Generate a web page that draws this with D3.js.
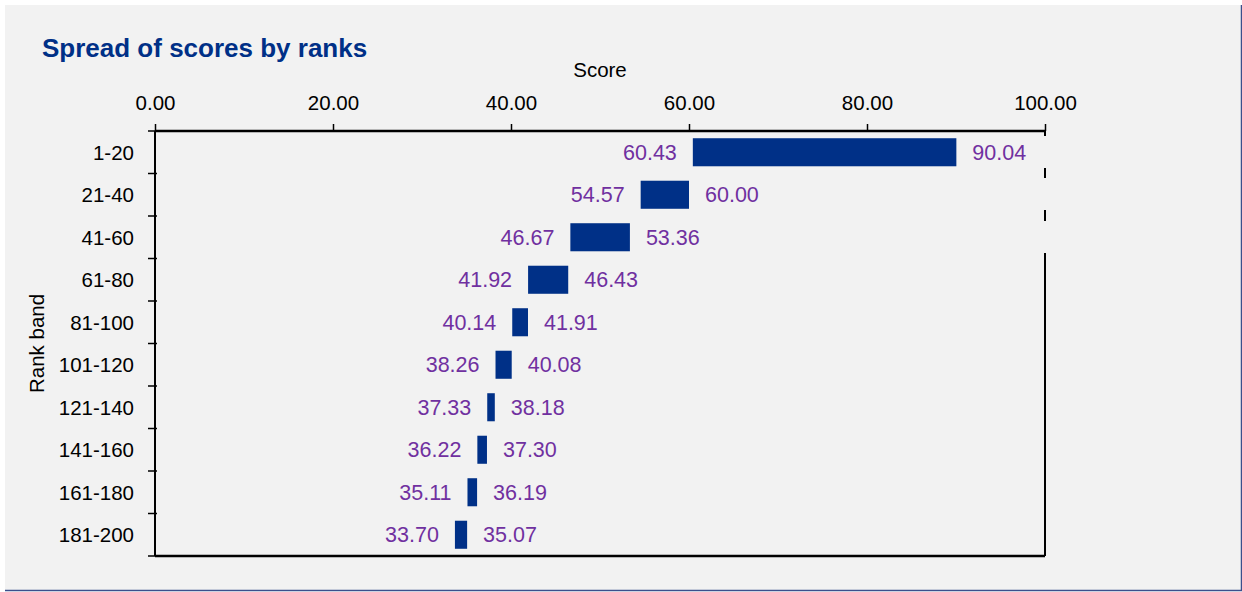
<!DOCTYPE html>
<html>
<head>
<meta charset="utf-8">
<script src="https://cdn.jsdelivr.net/npm/d3@7"></script>
<style>
  html, body { margin: 0; padding: 0; background: #fff; }
  svg { display: block; }
  text { font-family: "Liberation Sans", Arial, sans-serif; }
</style>
</head>
<body>
<div id="chart"></div>
<script>
var bands = ['1-20', '21-40', '41-60', '61-80', '81-100', '101-120', '121-140', '141-160', '161-180', '181-200'];
var lowScores = [60.43, 54.57, 46.67, 41.92, 40.14, 38.26, 37.33, 36.22, 35.11, 33.70];
var highScores = [90.04, 60.00, 53.36, 46.43, 41.91, 40.08, 38.18, 37.30, 36.19, 35.07];
var xTicks = [0, 20, 40, 60, 80, 100];

var data = bands.map(function(b, i) {
  return {band: b, low: lowScores[i], high: highScores[i]};
});

var totalWidth = 1242, totalHeight = 592;
var margin = {top: 131, left: 155};
var width = 890, height = 425;
var barColor = '#003087';
var labelColor = '#7030a0';
var fontSize = 20.5;

var svg = d3.select('#chart').append('svg')
    .attr('width', totalWidth)
    .attr('height', totalHeight);

// Panel background
svg.append('rect')
    .attr('x', 5).attr('y', 5)
    .attr('width', 1236).attr('height', 585)
    .attr('fill', '#f2f2f2');
svg.append('line')
    .attr('x1', 1241.5).attr('x2', 1241.5).attr('y1', 5).attr('y2', 591)
    .attr('stroke', '#3b4f8c').attr('stroke-width', 1.5);
svg.append('line')
    .attr('x1', 5).attr('x2', 1242).attr('y1', 590.5).attr('y2', 590.5)
    .attr('stroke', '#3b4f8c').attr('stroke-width', 1.5);

svg.append('text')
    .attr('x', 42).attr('y', 57)
    .attr('fill', '#003087')
    .attr('font-size', 26)
    .attr('font-weight', 'bold')
    .text('Spread of scores by ranks');

var g = svg.append('g')
    .attr('transform', 'translate(' + margin.left + ',' + margin.top + ')');

var xScale = d3.scaleLinear().domain([0, 100]).range([0, width]);
var yScale = d3.scaleBand().domain(bands).range([0, height]).paddingInner(0.34).paddingOuter(0.17);
var bandStep = height / bands.length;

// Bars
g.append('g')
    .attr('class', 'bars')
  .selectAll('rect')
    .data(data)
  .enter().append('rect')
    .attr('x', function(d) { return xScale(d.low); })
    .attr('y', function(d) { return yScale(d.band); })
    .attr('width', function(d) { return xScale(d.high) - xScale(d.low); })
    .attr('height', yScale.bandwidth())
    .attr('fill', barColor);

// Value labels
var labels = g.append('g')
    .attr('class', 'value-labels')
    .attr('font-size', 21.5)
    .attr('fill', labelColor);

labels.selectAll('.lo')
    .data(data)
  .enter().append('text')
    .attr('class', 'lo')
    .attr('x', function(d) { return xScale(d.low) - 16; })
    .attr('y', function(d) { return yScale(d.band) + yScale.bandwidth() / 2; })
    .attr('dy', '0.36em')
    .attr('text-anchor', 'end')
    .text(function(d) { return d.low.toFixed(2); });

labels.selectAll('.hi')
    .data(data)
  .enter().append('text')
    .attr('class', 'hi')
    .attr('x', function(d) { return xScale(d.high) + 16; })
    .attr('y', function(d) { return yScale(d.band) + yScale.bandwidth() / 2; })
    .attr('dy', '0.36em')
    .attr('text-anchor', 'start')
    .text(function(d) { return d.high.toFixed(2); });

// Top axis
var xAxis = d3.axisTop(xScale)
    .tickValues(xTicks)
    .tickSize(7)
    .tickSizeOuter(0)
    .tickPadding(14)
    .tickFormat(d3.format('.2f'));

var xAxisG = g.append('g')
    .attr('class', 'axis axis--x')
    .call(xAxis);
xAxisG.select('.domain').remove();
xAxisG.selectAll('line').attr('stroke', '#000').attr('stroke-width', 1.5);
xAxisG.selectAll('text')
    .attr('font-size', fontSize)
    .attr('font-family', '"Liberation Sans", Arial, sans-serif')
    .attr('fill', '#000')
    .attr('dy', 0);

// Left axis labels
var yAxis = d3.axisLeft(yScale).tickSize(0).tickPadding(21);
var yAxisG = g.append('g')
    .attr('class', 'axis axis--y')
    .call(yAxis);
yAxisG.select('.domain').remove();
yAxisG.selectAll('text')
    .attr('font-size', fontSize)
    .attr('font-family', '"Liberation Sans", Arial, sans-serif')
    .attr('fill', '#000')
    .attr('dy', '0.36em');

// Band boundary ticks
g.append('g')
    .attr('class', 'band-ticks')
  .selectAll('line')
    .data(d3.range(bands.length + 1))
  .enter().append('line')
    .attr('x1', -7).attr('x2', 2)
    .attr('y1', function(i) { return i * bandStep; })
    .attr('y2', function(i) { return i * bandStep; })
    .attr('stroke', '#000')
    .attr('stroke-width', 1.5);

// Plot frame
g.append('line')
    .attr('x1', 0).attr('x2', width).attr('y1', 0).attr('y2', 0)
    .attr('stroke', '#000').attr('stroke-width', 2.5);
g.append('line')
    .attr('x1', 0).attr('x2', width).attr('y1', height).attr('y2', height)
    .attr('stroke', '#000').attr('stroke-width', 2.5);
g.append('line')
    .attr('x1', 0).attr('x2', 0).attr('y1', 0).attr('y2', height)
    .attr('stroke', '#000').attr('stroke-width', 2);
// HACK: right edge drawn broken like in the source image
g.append('line')
    .attr('x1', width).attr('x2', width).attr('y1', 0).attr('y2', height)
    .attr('stroke', '#000').attr('stroke-width', 2)
    .attr('stroke-dasharray', '5,32,10,32,11,32,400');

// Axis titles
svg.append('text')
    .attr('x', margin.left + width / 2)
    .attr('y', 77)
    .attr('text-anchor', 'middle')
    .attr('font-size', fontSize)
    .attr('fill', '#000')
    .text('Score');

svg.append('text')
    .attr('transform', 'translate(44,' + (margin.top + height / 2) + ') rotate(-90)')
    .attr('text-anchor', 'middle')
    .attr('font-size', fontSize)
    .attr('fill', '#000')
    .text('Rank band');
</script>
</body>
</html>
